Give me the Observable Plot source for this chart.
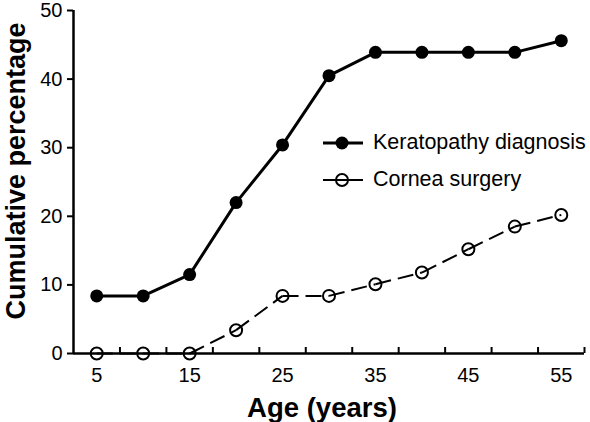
<!DOCTYPE html>
<html>
<head>
<meta charset="utf-8">
<script src="https://cdn.jsdelivr.net/npm/d3@7"></script>
<script src="https://cdn.jsdelivr.net/npm/@observablehq/plot@0.6"></script>
<style>
  body { margin: 0; background: #fff; }
  #wrap { position: relative; width: 590px; height: 422px; font-family: "Liberation Sans", Arial, sans-serif; }
  #legend { position: absolute; left: 322px; top: 124px; font-size: 21.5px; color: #000; }
  #legend .row { display: flex; align-items: center; height: 37px; }
  #legend svg { margin-right: 9px; }
</style>
</head>
<body>
<div id="wrap"></div>
<script>
const ages = [5, 10, 15, 20, 25, 30, 35, 40, 45, 50, 55];
const keratopathy = [8.4, 8.4, 11.5, 22.0, 30.4, 40.5, 43.9, 43.9, 43.9, 43.9, 45.6];
const cornea = [0, 0, 0, 3.4, 8.4, 8.4, 10.1, 11.8, 15.2, 18.5, 20.2];
const xLabelTicks = [5, 15, 25, 35, 45, 55];
const xMarkTicks = [7.5, 12.5, 17.5, 22.5, 27.5, 32.5, 37.5, 42.5, 47.5, 52.5, 57.5];
const yTicks = [0, 10, 20, 30, 40, 50];
const seriesNames = ["Keratopathy diagnosis", "Cornea surgery"];
const xTitle = "Age (years)";
const yTitle = "Cumulative percentage";

const kData = ages.map((a, i) => ({age: a, value: keratopathy[i]}));
const cData = ages.map((a, i) => ({age: a, value: cornea[i]}));
const cSegments = d3.pairs(cData).map(([a, b]) => ({x1: a.age, y1: a.value, x2: b.age, y2: b.value}));

const chart = Plot.plot({
  width: 590,
  height: 422,
  marginLeft: 73,
  marginRight: 6,
  marginTop: 10,
  marginBottom: 69,
  style: {fontFamily: "'Liberation Sans', Arial, sans-serif", color: "#000", background: "#fff", overflow: "visible"},
  x: {domain: [2.5, 57.5]},
  y: {domain: [0, 50]},
  marks: [
    Plot.axisY(yTicks, {tickSize: 6, tickPadding: 5, fontSize: 20, strokeWidth: 2, label: null}),
    Plot.axisX(xLabelTicks, {tickSize: 0, tickPadding: 14, fontSize: 20, label: null}),
    Plot.axisX(xMarkTicks, {tickSize: 6, dy: -6, text: null, strokeWidth: 2, label: null}),
    Plot.ruleY([0], {strokeWidth: 2.5}),
    Plot.ruleX([2.5], {y1: 0, y2: 50, strokeWidth: 2.5}),
    Plot.link(cSegments, {x1: "x1", y1: "y1", x2: "x2", y2: "y2", stroke: "#000", strokeWidth: 2, strokeDasharray: "16,7"}),
    Plot.dot(cData, {x: "age", y: "value", r: 6, stroke: "#000", strokeWidth: 2, fill: "none"}),
    Plot.line(kData, {x: "age", y: "value", stroke: "#000", strokeWidth: 3}),
    Plot.dot(kData, {x: "age", y: "value", r: 6.5, fill: "#000", stroke: "none"}),
    Plot.text([xTitle], {frameAnchor: "bottom", dx: -7, dy: 55, fontSize: 27.5, fontWeight: "bold", lineAnchor: "middle", textAnchor: "middle", text: d => d}),
    Plot.text([yTitle], {frameAnchor: "left", dx: -49, dy: -11, rotate: -90, fontSize: 27, fontWeight: "bold", lineAnchor: "bottom", textAnchor: "middle", text: d => d})
  ]
});

const wrap = document.getElementById("wrap");
wrap.appendChild(chart);

const legend = document.createElement("div");
legend.id = "legend";
const styles = [
  {width: 3, fill: "#000", r: 6.5},
  {width: 2, fill: "none", r: 6}
];
seriesNames.forEach((name, i) => {
  const s = styles[i];
  const row = document.createElement("div");
  row.className = "row";
  row.innerHTML = `<svg width="42" height="16" viewBox="0 0 42 16">
    <line x1="1" x2="41" y1="8" y2="8" stroke="#000" stroke-width="${s.width}"></line>
    <circle cx="20" cy="8" r="${s.r}" fill="${s.fill}" stroke="${s.fill === 'none' ? '#000' : 'none'}" stroke-width="2"></circle>
  </svg><span>${name}</span>`;
  legend.appendChild(row);
});
wrap.appendChild(legend);
</script>
</body>
</html>
